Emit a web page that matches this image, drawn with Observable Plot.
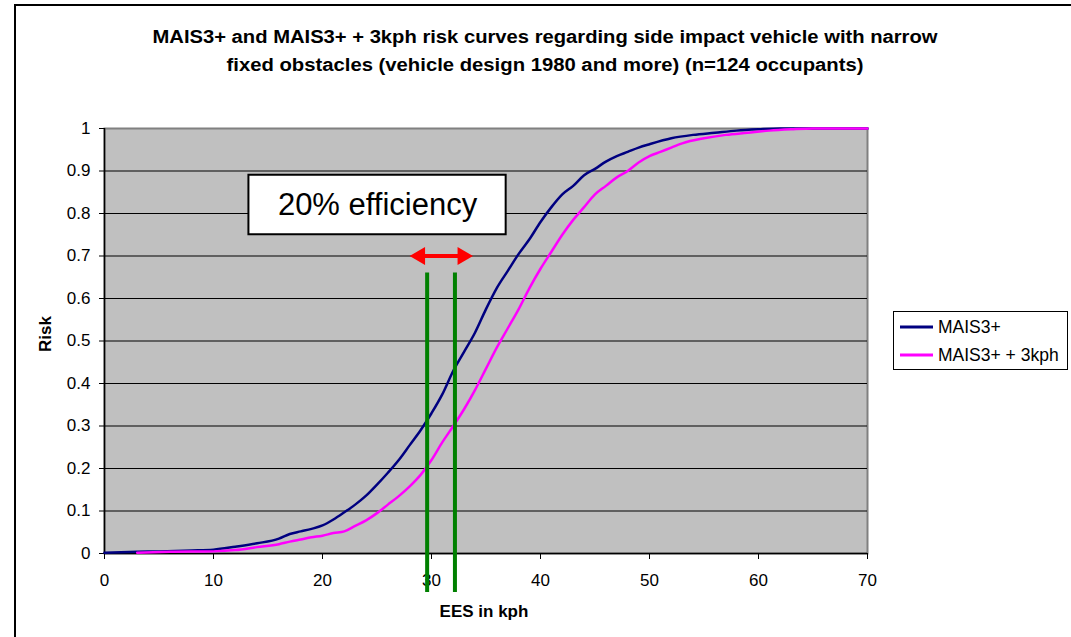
<!DOCTYPE html>
<html>
<head>
<meta charset="utf-8">
<script src="https://cdn.jsdelivr.net/npm/d3@7"></script>
<script src="https://cdn.jsdelivr.net/npm/@observablehq/plot@0.6"></script>
<style>
  html, body { margin: 0; padding: 0; background: #fff; }
  svg { display: block; }
</style>
</head>
<body>
<div id="chart"></div>
<script>
// ---- Data ----
const titleLines = [
  "MAIS3+ and MAIS3+ + 3kph risk curves regarding side impact vehicle with narrow",
  "fixed obstacles (vehicle design 1980 and more) (n=124 occupants)"
];
const seriesNames = ["MAIS3+", "MAIS3+ + 3kph"];
const seriesColors = ["#000080", "#FF00FF"];
const xLabel = "EES in kph";
const yLabel = "Risk";
const xTicks = [0, 10, 20, 30, 40, 50, 60, 70];
const yTicks = [0, 0.1, 0.2, 0.3, 0.4, 0.5, 0.6, 0.7, 0.8, 0.9, 1];

const maisX = [0, 3, 5, 8, 10, 12, 14, 16, 17, 18, 19, 20, 21, 22, 23, 24, 25, 26, 27, 28, 29, 30, 31, 32, 33, 34, 35, 36, 37, 38, 39, 40, 41, 42, 43, 44, 45, 46, 47, 48, 49, 50, 52, 54, 56, 58, 60, 62, 70];
const maisY = [0.002, 0.004, 0.005, 0.007, 0.009, 0.016, 0.024, 0.035, 0.046, 0.052, 0.058, 0.066, 0.08, 0.097, 0.115, 0.136, 0.162, 0.19, 0.22, 0.255, 0.29, 0.33, 0.375, 0.43, 0.475, 0.52, 0.575, 0.625, 0.665, 0.705, 0.74, 0.78, 0.815, 0.845, 0.865, 0.89, 0.905, 0.922, 0.935, 0.945, 0.955, 0.963, 0.977, 0.985, 0.99, 0.995, 0.998, 1.0, 1.0];

const plusX = [3, 6, 10, 12, 14, 16, 17, 18, 19, 20, 21, 22, 23, 24, 25, 26, 27, 28, 29, 30, 31, 32, 33, 34, 35, 36, 37, 38, 39, 40, 41, 42, 43, 44, 45, 46, 47, 48, 49, 50, 51, 52, 53, 55, 57, 59, 61, 63, 65, 70];
const plusY = [0.002, 0.004, 0.005, 0.008, 0.015, 0.022, 0.028, 0.033, 0.038, 0.042, 0.048, 0.052, 0.065, 0.078, 0.095, 0.115, 0.135, 0.158, 0.185, 0.22, 0.262, 0.30, 0.34, 0.385, 0.435, 0.485, 0.53, 0.575, 0.625, 0.67, 0.71, 0.75, 0.785, 0.815, 0.845, 0.865, 0.885, 0.90, 0.92, 0.935, 0.945, 0.955, 0.965, 0.977, 0.985, 0.99, 0.995, 0.998, 1.0, 1.0];

// annotation values (data units)
const greenX = [29.6, 32.15];
const greenYRange = [0.66, -0.092];
const arrowX = [28.0, 33.8];
const arrowY = 0.70;
const boxText = "20% efficiency";
const boxX = [13.25, 36.85];
const boxY = [0.75, 0.89];

// ---- Build ----
const rows = [
  ...maisX.map((x, i) => ({x, y: maisY[i], s: seriesNames[0]})),
  ...plusX.map((x, i) => ({x, y: plusY[i], s: seriesNames[1]}))
];

const W = 1071, H = 637;
const font = "'Liberation Sans', Arial, sans-serif";
const fmt = d => String(+d.toFixed(1));

const chart = Plot.plot({
  width: W, height: H,
  marginLeft: 104, marginRight: 204, marginTop: 128, marginBottom: 84,
  style: {fontFamily: font, fontSize: "17px", background: "#fff", color: "#000"},
  x: {domain: [0, 70]},
  y: {domain: [0, 1]},
  color: {domain: seriesNames, range: seriesColors},
  marks: [
    Plot.frame({fill: "#C0C0C0", stroke: "#808080", strokeWidth: 2}),
    Plot.gridY(yTicks.filter(d => d > 0 && d < 1), {stroke: "#000", strokeOpacity: 1, strokeWidth: 1}),
    Plot.axisY(yTicks, {tickSize: 5, tickPadding: 9, tickFormat: fmt, label: null, fontSize: 17}),
    Plot.axisX(xTicks, {tickSize: 6, tickPadding: 14, tickFormat: fmt, label: null, fontSize: 17}),
    Plot.ruleY([0], {stroke: "#000", strokeWidth: 1.5}),
    Plot.ruleX([0], {stroke: "#000", strokeWidth: 1.5}),
    Plot.line(rows, {x: "x", y: "y", z: "s", stroke: "s", strokeWidth: 2.5, curve: "monotone-x"}),
    Plot.ruleX(greenX, {y1: greenYRange[0], y2: greenYRange[1], stroke: "#008000", strokeWidth: 4, clip: false}),
    Plot.ruleY([arrowY], {x1: arrowX[0] + 0.6, x2: arrowX[1] - 0.6, stroke: "#FF0000", strokeWidth: 4}),
    Plot.dot([arrowX[0]], {x: d => d, y: () => arrowY, symbol: "triangle", r: 6.6, rotate: -90, fill: "#FF0000", stroke: "none", dx: 10.2}),
    Plot.dot([arrowX[1]], {x: d => d, y: () => arrowY, symbol: "triangle", r: 6.6, rotate: 90, fill: "#FF0000", stroke: "none", dx: -10.2}),
    Plot.rect([{x1: boxX[0], x2: boxX[1], y1: boxY[0], y2: boxY[1]}], {x1: "x1", x2: "x2", y1: "y1", y2: "y2", fill: "#fff", stroke: "#000", strokeWidth: 2}),
    Plot.text([boxText], {x: (boxX[0] + boxX[1]) / 2, y: (boxY[0] + boxY[1]) / 2, text: d => d, fontSize: 31, fill: "#000"})
  ]
});

const svg = d3.select(chart);
svg.attr("font-family", font);

// outer chart border (left & top visible)
svg.append("path").attr("d", `M15,${H + 5} L15,5 L${W + 5},5`).attr("fill", "none").attr("stroke", "#000").attr("stroke-width", 2);

// title
const titleWidths = [785, 637];
const t = svg.append("text").attr("text-anchor", "middle").attr("font-weight", "bold").attr("font-size", 18).attr("fill", "#000");
titleLines.forEach((line, i) => {
  t.append("tspan").attr("x", 545).attr("y", 43 + i * 27.5)
    .attr("textLength", titleWidths[i]).attr("lengthAdjust", "spacingAndGlyphs").text(line);
});

// axis labels
svg.append("text").attr("x", 484).attr("y", 617).attr("text-anchor", "middle").attr("font-weight", "bold").attr("font-size", 17).text(xLabel);
svg.append("text").attr("transform", "translate(51,334) rotate(-90)").attr("text-anchor", "middle").attr("font-weight", "bold").attr("font-size", 17).text(yLabel);

// legend
const lg = svg.append("g").attr("text-anchor", "start");
lg.append("rect").attr("x", 893.5).attr("y", 311.5).attr("width", 174).attr("height", 58).attr("fill", "#fff").attr("stroke", "#000").attr("stroke-width", 1);
seriesNames.forEach((name, i) => {
  const yy = 327 + i * 28;
  lg.append("line").attr("x1", 900).attr("x2", 933).attr("y1", yy).attr("y2", yy).attr("stroke", seriesColors[i]).attr("stroke-width", 3);
  lg.append("text").attr("x", 938).attr("y", yy).attr("dy", "0.35em").attr("font-size", 17.5).attr("text-anchor", "start").text(name);
});

document.getElementById("chart").appendChild(chart);
</script>
</body>
</html>
